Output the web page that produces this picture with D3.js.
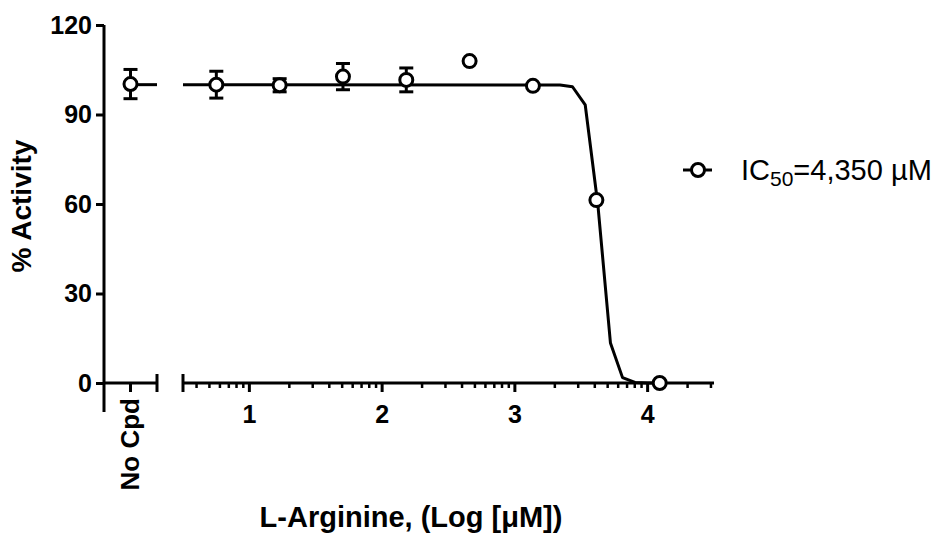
<!DOCTYPE html>
<html>
<head>
<meta charset="utf-8">
<script src="https://cdn.jsdelivr.net/npm/d3@7"></script>
<style>
  body { margin: 0; background: #fff; }
  text { font-family: "Liberation Sans", Arial, sans-serif; }
</style>
</head>
<body>
<div id="chart"></div>
<script>
// data
var noCpd = { label: "No Cpd", y: 100.2, err: 4.9 };

var logConc = [0.751, 1.228, 1.705, 2.182, 2.659, 3.136, 3.614, 4.091];
var activity = [100, 99.8, 102.7, 101.6, 107.9, 99.6, 61.3, 0];
var sem = [4.5, 2.2, 4.4, 4.0, 0, 0, 0, 0];

// fitted curve vertices (log x, % activity)
var curveX = [0.5, 3.34, 3.434, 3.53, 3.626, 3.72, 3.811, 3.905, 4.0, 4.091];
var curveY = [100, 99.9, 99.3, 93.2, 59.4, 13.4, 1.8, 0.2, 0, 0];

var yTicks = [0, 30, 60, 90, 120];
var xTicks = [1, 2, 3, 4];

const width = 934, height = 542;

var svg = d3.select("#chart")
    .append("svg")
    .attr("width", width)
    .attr("height", height);

var y = d3.scaleLinear().domain([0, 120]).range([383, 25]);
var xCat = d3.scaleBand().domain([noCpd.label]).range([104, 157]);
var x = d3.scaleLinear().domain([0.5, 4.5]).range([183, 714]);

var ink = "#000";

// y axis
var yAxis = svg.append("g")
    .attr("transform", "translate(104,0)")
    .call(d3.axisLeft(y).tickValues(yTicks).tickSize(8).tickPadding(4));
yAxis.select(".domain").remove();
yAxis.append("line")
    .attr("x1", 0).attr("x2", 0)
    .attr("y1", y(120)).attr("y2", 412)
    .attr("stroke", ink).attr("stroke-width", 3);
yAxis.selectAll(".tick line").attr("stroke-width", 3);
yAxis.selectAll(".tick text")
    .attr("fill", ink)
    .style("font-size", "25px")
    .style("font-weight", "bold");

// x axis, first segment (No Cpd)
var cx0 = xCat(noCpd.label) + xCat.bandwidth() / 2;
var seg1 = svg.append("g").attr("transform", "translate(0,383)");
seg1.append("line")
    .attr("x1", 104).attr("x2", 157)
    .attr("stroke", ink).attr("stroke-width", 3);
seg1.append("line")
    .attr("x1", cx0).attr("x2", cx0)
    .attr("y1", 0).attr("y2", 9)
    .attr("stroke", ink).attr("stroke-width", 3);
seg1.append("line")
    .attr("x1", 157).attr("x2", 157)
    .attr("y1", -9).attr("y2", 9)
    .attr("stroke", ink).attr("stroke-width", 3);
seg1.append("text")
    .attr("transform", "translate(" + (cx0 + 8) + ",15) rotate(-90)")
    .attr("text-anchor", "end")
    .style("font-size", "26px")
    .style("font-weight", "bold")
    .text(noCpd.label);

// x axis, second segment (log)
var minor = [];
for (var d = 0; d < 5; d++) {
    for (var k = 2; k <= 9; k++) {
        var v = d + Math.log10(k);
        if (v > 0.5 && v < 4.5) minor.push(v);
    }
}
var seg2 = svg.append("g").attr("transform", "translate(0,383)");
seg2.append("line")
    .attr("x1", x(0.5)).attr("x2", x(4.5))
    .attr("stroke", ink).attr("stroke-width", 3);
seg2.append("line")
    .attr("x1", x(0.5)).attr("x2", x(0.5))
    .attr("y1", -9).attr("y2", 9)
    .attr("stroke", ink).attr("stroke-width", 3);
seg2.selectAll(".minor")
    .data(minor)
    .enter().append("line")
    .attr("class", "minor")
    .attr("x1", function(d) { return x(d); })
    .attr("x2", function(d) { return x(d); })
    .attr("y1", 0).attr("y2", 5)
    .attr("stroke", ink).attr("stroke-width", 2.5);
var major = seg2.selectAll(".major")
    .data(xTicks)
    .enter().append("g")
    .attr("class", "major")
    .attr("transform", function(d) { return "translate(" + x(d) + ",0)"; });
major.append("line")
    .attr("y1", 0).attr("y2", 9)
    .attr("stroke", ink).attr("stroke-width", 3);
major.append("text")
    .attr("y", 40)
    .attr("text-anchor", "middle")
    .style("font-size", "25px")
    .style("font-weight", "bold")
    .text(function(d) { return d; });

// fitted curve
var curve = curveX.map(function(v, i) { return [v, curveY[i]]; });
svg.append("path")
    .datum(curve)
    .attr("fill", "none")
    .attr("stroke", ink)
    .attr("stroke-width", 3)
    .attr("stroke-linejoin", "round")
    .attr("d", d3.line().x(function(d) { return x(d[0]); }).y(function(d) { return y(d[1]); }));

// No Cpd line segment
svg.append("line")
    .attr("x1", cx0).attr("x2", 157)
    .attr("y1", y(curveY[0])).attr("y2", y(curveY[0]))
    .attr("stroke", ink).attr("stroke-width", 3);

var points = logConc.map(function(v, i) { return { px: x(v), y: activity[i], err: sem[i] }; });
points.unshift({ px: cx0, y: noCpd.y, err: noCpd.err });

var pts = svg.selectAll(".pt")
    .data(points)
    .enter().append("g")
    .attr("class", "pt");

pts.filter(function(d) { return d.err > 0; })
    .each(function(d) {
        var g = d3.select(this);
        g.append("line")
            .attr("x1", d.px).attr("x2", d.px)
            .attr("y1", y(d.y - d.err)).attr("y2", y(d.y + d.err))
            .attr("stroke", ink).attr("stroke-width", 3);
        [d.y - d.err, d.y + d.err].forEach(function(e) {
            g.append("line")
                .attr("x1", d.px - 7).attr("x2", d.px + 7)
                .attr("y1", y(e)).attr("y2", y(e))
                .attr("stroke", ink).attr("stroke-width", 3);
        });
    });

pts.append("circle")
    .attr("cx", function(d) { return d.px; })
    .attr("cy", function(d) { return y(d.y); })
    .attr("r", 6.5)
    .attr("fill", "#fff")
    .attr("stroke", ink)
    .attr("stroke-width", 3);

// legend
var lg = svg.append("g").attr("transform", "translate(683,170)");
lg.append("line")
    .attr("x1", 0).attr("x2", 29)
    .attr("stroke", ink).attr("stroke-width", 3);
lg.append("circle")
    .attr("cx", 15).attr("r", 6.5)
    .attr("fill", "#fff").attr("stroke", ink).attr("stroke-width", 3);
var lt = lg.append("text")
    .attr("x", 58).attr("y", 10)
    .style("font-size", "29px");
lt.append("tspan").text("IC");
lt.append("tspan").attr("dy", 6).style("font-size", "21px").text("50");
lt.append("tspan").attr("dy", -6).text("=4,350 µM");

// axis titles
svg.append("text")
    .attr("transform", "translate(31,206) rotate(-90)")
    .attr("text-anchor", "middle")
    .style("font-size", "28px")
    .style("font-weight", "bold")
    .text("% Activity");

svg.append("text")
    .attr("x", 411).attr("y", 527)
    .attr("text-anchor", "middle")
    .style("font-size", "29px")
    .style("font-weight", "bold")
    .text("L-Arginine, (Log [μM])");
</script>
</body>
</html>
